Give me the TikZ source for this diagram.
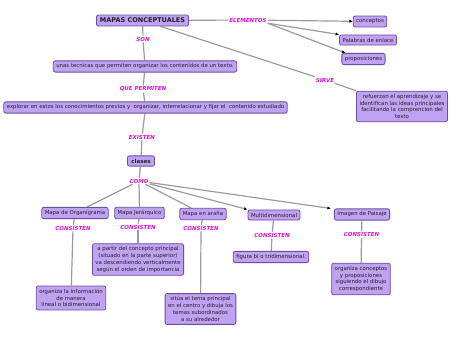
\documentclass[tikz,border=0pt]{standalone}
\usepackage{fontspec}
\setmainfont{DejaVu Sans}
\usetikzlibrary{arrows.meta,backgrounds}
\definecolor{boxfill}{HTML}{BFA2F2}
\definecolor{boxdraw}{HTML}{6E4E9E}
\definecolor{linkcol}{HTML}{E010E0}
\definecolor{edgecol}{HTML}{9C9C9C}
\definecolor{txtcol}{HTML}{222222}
\tikzset{
  concept/.style={draw=boxdraw, fill=boxfill, line width=0.8pt, rounded corners=2pt,
    inner xsep=3pt, inner ysep=3pt, text=txtcol, font=\fontsize{5.4}{6.8}\selectfont, align=center},
  linklab/.style={text=linkcol, font=\fontsize{5.5}{6.5}\selectfont\bfseries\itshape, inner sep=1pt},
  edge/.style={draw=edgecol, line width=1.2pt},
  arr/.style={edge, -{Latex[length=3.5pt,width=3.2pt,color=black]}}
}
\begin{document}
\begin{tikzpicture}[x=1pt,y=-1pt]
\useasboundingbox (0,0) rectangle (450,350);
% nodes
\node[concept, font=\fontsize{6.5}{7.5}\selectfont\bfseries, inner xsep=3.5pt] (m) at (142.5,20.5) {MAPAS CONCEPTUALES};
\node[linklab] (el) at (248,20) {ELEMENTOS};
\node[concept] (c1) at (370,21.5) {conceptos};
\node[concept] (c2) at (368,40) {Palabras de enlace};
\node[concept] (c3) at (363.5,59) {proposiciones};
\node[linklab] (son) at (143,39) {SON};
\node[concept] (t) at (145,66.5) {unas tecnicas que permiten organizar los contenidos de un texto.};
\node[linklab] (qp) at (143,89) {QUE PERMITEN};
\node[concept] (ex) at (145.5,107.5) {explorar en estos los conocimientos previos y\ \ organizar, interrelacionar y fijar el\ \ contenido estudiado};
\node[linklab] (sv) at (325,80) {SIRVE};
\node[concept] (rf) at (402,106.5) {refuerzan el aprendizaje y se\\identifican las ideas principales\\facilitando la comprencion del\\texto};
\node[linklab] (exi) at (142,137) {EXISTEN};
\node[concept, font=\fontsize{5.5}{6.5}\selectfont\bfseries, inner xsep=4pt] (cl) at (141,161) {clases};
\node[linklab] (co) at (139,181) {COMO};
\node[concept] (o) at (75,213) {Mapa de Organigrama};
\node[concept] (j) at (139.5,213) {Mapa Jerárquico};
\node[concept] (a) at (203,214) {Mapa en araña};
\node[concept] (md) at (274,215) {Multidimensional};
\node[concept] (ip) at (362,214.5) {Imagen de Paisaje};
\node[linklab] (k1) at (73,228) {CONSISTEN};
\node[linklab] (k2) at (138,227) {CONSISTEN};
\node[linklab] (k3) at (201,228) {CONSISTEN};
\node[linklab] (k4) at (272,235) {CONSISTEN};
\node[linklab] (k5) at (361.5,234.5) {CONSISTEN};
\node[concept] (d2) at (138,259.5) {a partir del concepto principal\\(situado en la parte superior)\\va descendiendo verticalmente\\según el orden de importancia};
\node[concept] (d4) at (271,257) {figura bi o tridimensional.};
\node[concept] (d1) at (71,298) {organiza la información\\de manera\\lineal o bidimensional};
\node[concept] (d3) at (200.5,309) {sitúa el tema principal\\en el centro y dibuja los\\temas subordinados\\a su alrededor};
\node[concept] (d5) at (361,279) {organiza conceptos\\y proposiciones\\siguiendo el dibujo\\correspondiente};
% edges
\begin{scope}[on background layer]
\fill[white] (0,0) rectangle (450,350);
\draw[edge] (m) -- (el);
\draw[edge] (m) -- (sv);
\draw[edge] (sv) -- (rf);
\draw[edge] (m) -- (son);
\draw[edge] (son) -- (t);
\draw[edge] (t) -- (qp);
\draw[edge] (qp) -- (ex);
\draw[edge] (ex) -- (exi);
\draw[edge] (exi) -- (cl);
\draw[edge] (cl) -- (co);
\draw[edge] (co) -- (o);
\draw[edge] (co) -- (j);
\draw[edge] (co) -- (a);
\draw[edge] (o) -- (k1); \draw[edge] (k1) -- (d1);
\draw[edge] (j) -- (k2); \draw[edge] (k2) -- (d2);
\draw[edge] (a) -- (k3); \draw[edge] (k3) -- (d3);
\draw[edge] (md) -- (k4); \draw[edge] (k4) -- (d4);
\draw[edge] (ip) -- (k5); \draw[edge] (k5) -- (d5);
\end{scope}
\draw[arr] (el) -- (c1);
\draw[arr] (el.south east) -- (c2.north west);
\draw[arr] (el.south east) -- ([xshift=4pt]c3.north west);
\draw[arr] (co) -- (md.north west);
\draw[arr] (co) -- ([xshift=-3pt]ip.north west);
\end{tikzpicture}
\end{document}
